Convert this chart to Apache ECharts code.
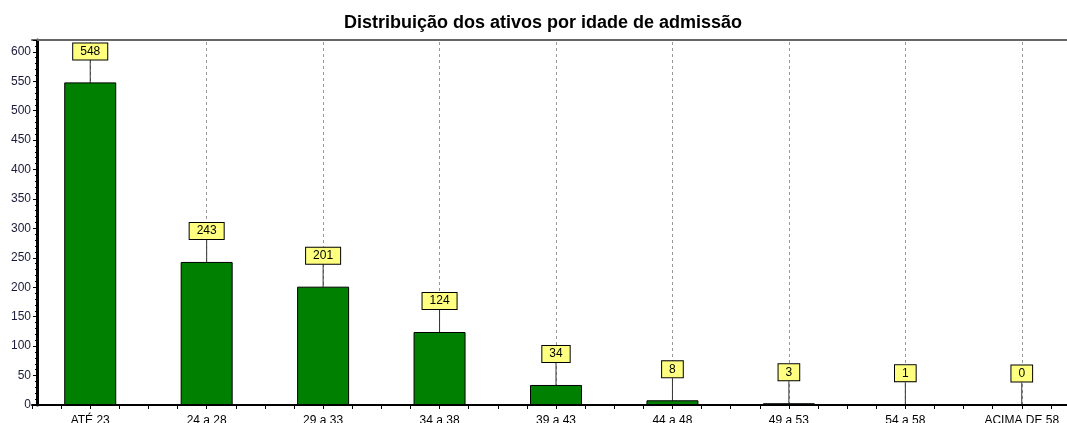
<!DOCTYPE html>
<html><head><meta charset="utf-8">
<script src="https://cdn.jsdelivr.net/npm/echarts@6/dist/echarts.min.js"></script>
<style>html,body{margin:0;padding:0;background:#fff}#c{width:1067px;height:423px}</style>
</head><body><div id="c"></div>
<script>
const categories = ['ATÉ 23','24 a 28','29 a 33','34 a 38','39 a 43','44 a 48','49 a 53','54 a 58','ACIMA DE 58'];
const values = [548, 243, 201, 124, 34, 8, 3, 1, 0];
const titleText = 'Distribuição dos ativos por idade de admissão';
const quarterTicks = Array(categories.length * 4).fill('');

const chart = echarts.init(document.getElementById('c'));
chart.setOption({
  animation: false,
  textStyle: { fontFamily: 'Liberation Sans, Arial, sans-serif' },
  title: { text: titleText, left: 339, top: 9,
    textStyle: { fontSize: 18, fontWeight: 'bold', color: '#000', fontFamily: 'Liberation Sans, Arial, sans-serif' } },
  grid: { left: 32, width: 1048, top: 40, bottom: 18, outerBoundsMode: 'none', containLabel: false },
  xAxis: [
    { type: 'category', data: categories, position: 'bottom',
      axisLine: { lineStyle: { color: '#000', width: 2 } },
      axisTick: { show: false },
      axisLabel: { fontSize: 12, color: '#000', margin: 10, interval: 0 },
      splitLine: { show: false } },
    { type: 'category', data: categories, position: 'top', gridIndex: 0,
      axisLine: { lineStyle: { color: '#666', width: 2 } },
      axisTick: { show: false }, axisLabel: { show: false } },
    { type: 'category', data: quarterTicks, position: 'bottom', gridIndex: 0,
      axisLine: { show: false },
      axisTick: { show: true, length: 4, lineStyle: { color: '#000' } },
      axisLabel: { show: false } }
  ],
  yAxis: { type: 'value', min: 0, max: 620, interval: 50, offset: -5,
    axisLine: { show: true, lineStyle: { color: '#000', width: 3 } },
    axisTick: { show: true, length: 4, lineStyle: { color: '#000' } },
    minorTick: { show: true, splitNumber: 5, length: 2, lineStyle: { color: '#000' } },
    axisLabel: { fontSize: 12, color: '#1a1a3a', showMaxLabel: false, margin: 6 },
    splitLine: { show: false } },
  series: [
    { type: 'line', data: [], z: 0, silent: true,
      markLine: { silent: true, z: 0, symbol: 'none', label: { show: false },
        lineStyle: { type: [3, 3], color: '#999', width: 1 },
        data: categories.map(c => ({ xAxis: c })) } },
    { type: 'bar', data: values, barWidth: 52, z: 3,
      itemStyle: { color: '#008000', borderColor: '#000', borderWidth: 1 },
      label: { show: true, position: 'top', distance: 0,
        backgroundColor: '#ffff80', borderColor: '#000', borderWidth: 1,
        padding: [1, 7, 1, 7], fontSize: 12, color: '#000', lineHeight: 14 },
      labelLayout: { dy: -23 },
      labelLine: { show: true, lineStyle: { color: '#333', width: 1 } } }
  ]
});
</script></body></html>
